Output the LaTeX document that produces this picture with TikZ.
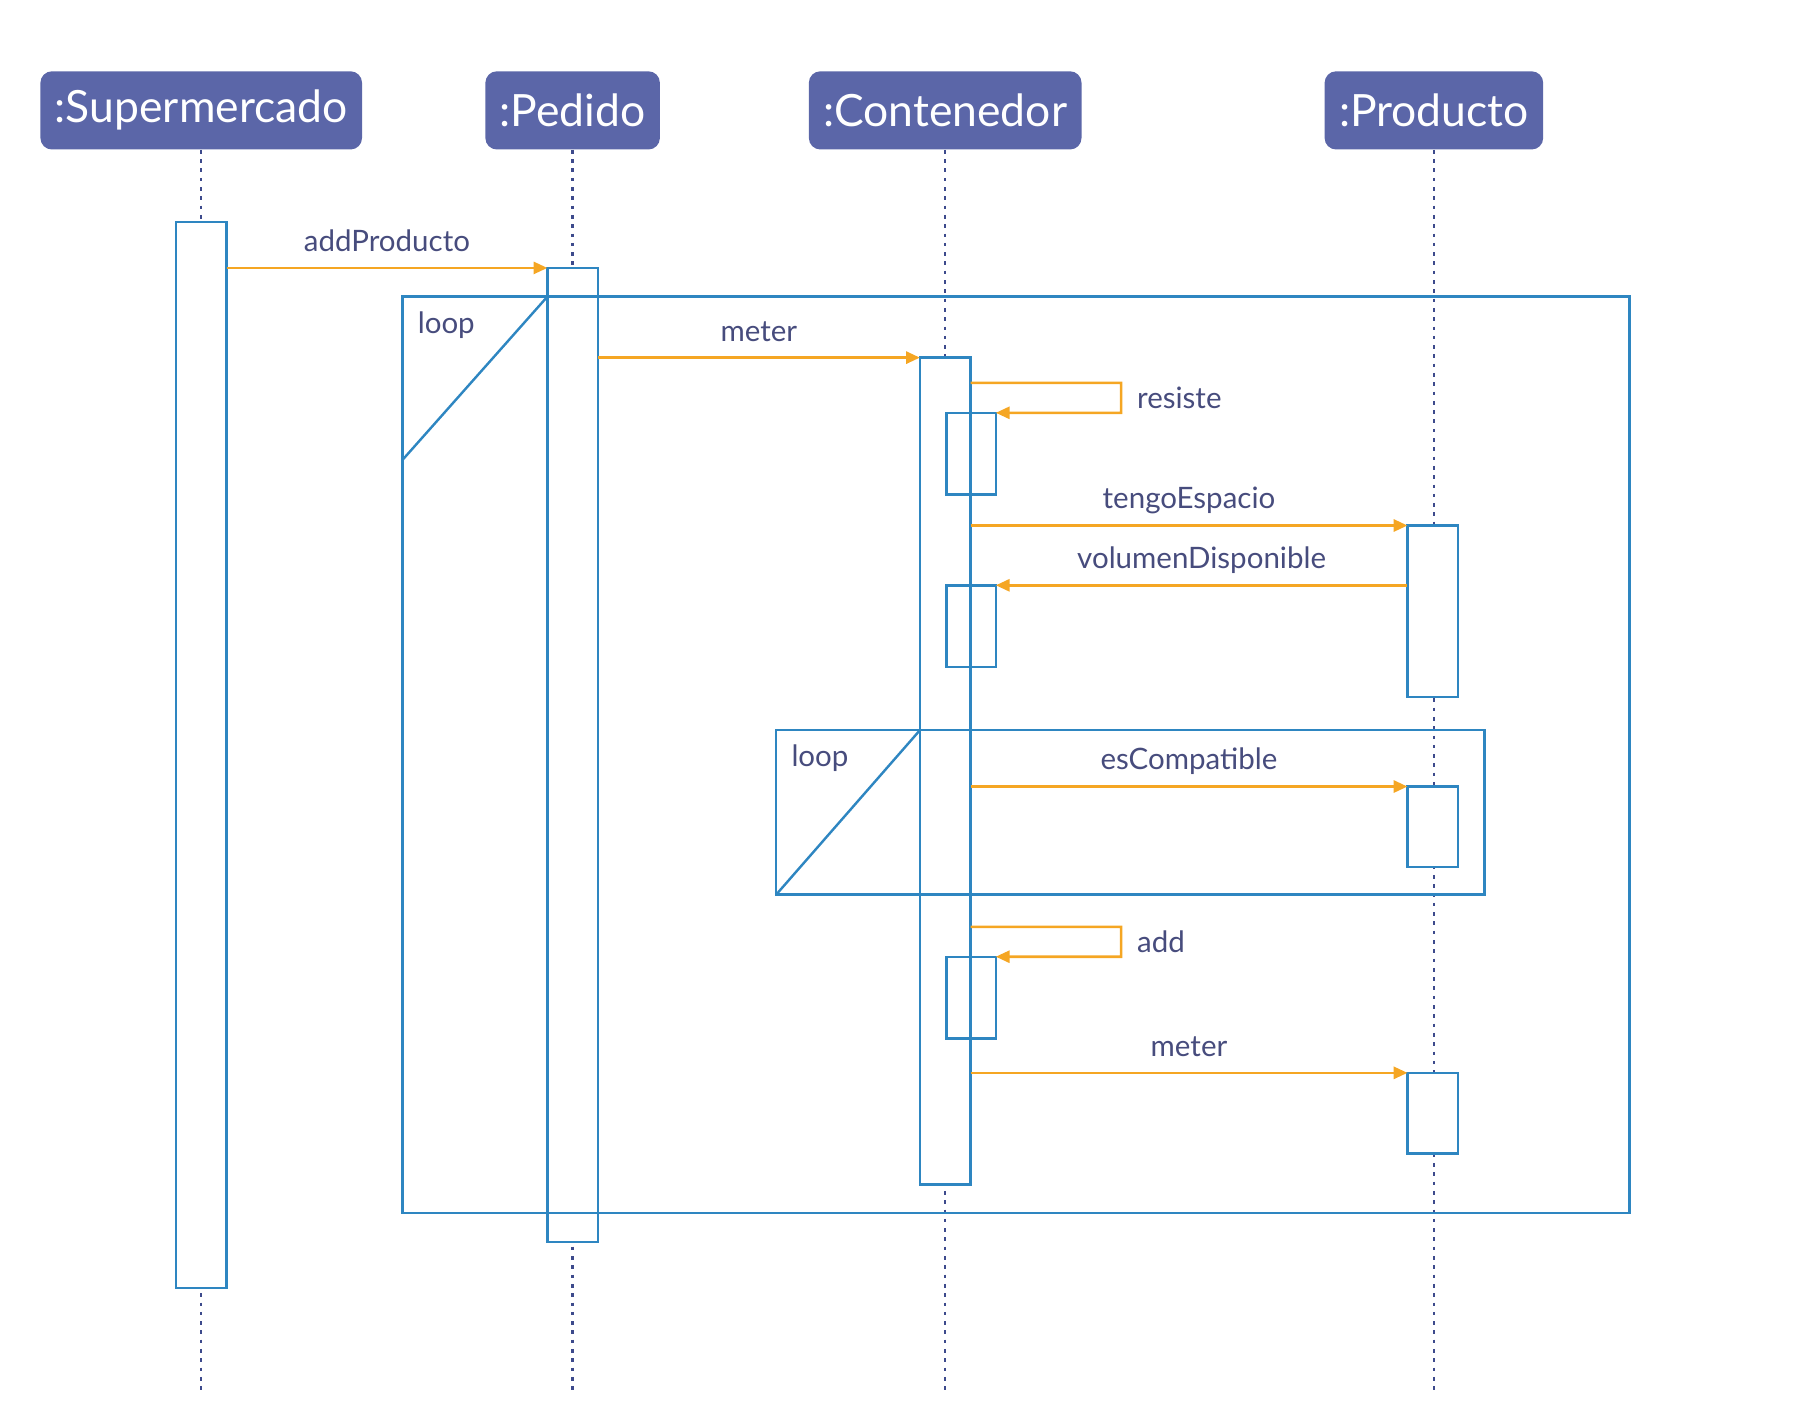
\documentclass[tikz,border=0pt]{standalone}
\usepackage{fontspec}
\setmainfont{Lato}
\usetikzlibrary{positioning, fit, arrows.meta}
\definecolor{headfill}{HTML}{5B66A8}
\definecolor{umlblue}{HTML}{2E86C1}
\definecolor{msgorange}{HTML}{F5A623}
\definecolor{labelink}{HTML}{474C7D}
\definecolor{lifeink}{HTML}{3D4A8C}

\begin{document}
\begin{tikzpicture}[x=0.2mm, y=-0.2mm,
  head/.style={rectangle, rounded corners=2mm, fill=headfill, text=white,
    font=\fontsize{22}{26}\selectfont, inner xsep=2.5mm, minimum height=13.6mm},
  life/.style={lifeink, line width=1.2pt, dash pattern=on 1.8pt off 2.8pt},
  act/.style={draw=umlblue, fill=white, line width=1.2pt, inner sep=0pt, outer sep=0pt},
  subact/.style={draw=umlblue, line width=1.2pt, inner sep=0pt, outer sep=0pt},
  frame/.style={draw=umlblue, line width=1.2pt, inner sep=0pt, outer sep=0pt},
  msg/.style={draw=msgorange, line width=1.3pt, -{Triangle[length=2.4mm,width=2.1mm]}},
  lbl/.style={text=labelink, font=\fontsize{14.6}{17}\selectfont, inner sep=1pt, text depth=0pt},
]
\useasboundingbox (0,0) rectangle (1568,1232);

\node[head] (sup) at (175,96) {:Supermercado};
\node[head] (ped) at (498,96) {:Pedido};
\node[head] (con) at (822,96) {:Contenedor};
\node[head] (pro) at (1247,96) {:Producto};

\coordinate (supEnd) at (175,1212);
\coordinate (pedEnd) at (498,1212);
\coordinate (conEnd) at (822,1212);
\coordinate (proEnd) at (1247,1212);

\draw[life]
    (sup) -- (supEnd)
    (ped) -- (pedEnd)
    (con) -- (conEnd)
    (pro) -- (proEnd)
    ;

\node[act, fit={(153,193) (197,1120)}] (actS) {};
\node[act, fit={(476,233) (520,1080)}] (actP) {};
\node[act, fit={(800,311) (844,1030)}] (actC) {};
\node[act, fit={(1224,457) (1268,606)}] (actT) {};
\node[act, fit={(1224,684) (1268,754)}] (actE) {};
\node[act, fit={(1224,933) (1268,1003)}] (actM) {};

\node[subact, fit={(823,359) (866,430)}] (actR) {};
\node[subact, fit={(823,509) (866,580)}] (actV) {};
\node[subact, fit={(823,832) (866,903)}] (actA) {};

\node[frame, fit={(350,258) (1417,1055)}] (loopOut) {};
\node[frame, fit={(675,635) (1291,778)}] (loopIn) {};

\coordinate (cutOut) at (350,400);
\draw[frame] (actP.west |- loopOut.north) -- (cutOut);
\draw[frame] (actC.west |- loopIn.north) -- (loopIn.south west);

\node[lbl, below right=2.2mm and 2.25mm of loopOut.north west] (loopOutLbl) {loop};
\node[lbl, below right=2.2mm and 2.25mm of loopIn.north west] (loopInLbl) {loop};

\coordinate (rs1) at (844,333);
\coordinate (rs2) at (975,333);
\coordinate (rs3) at (975,359);
\coordinate (ad1) at (844,806);
\coordinate (ad2) at (975,806);
\coordinate (ad3) at (975,832);

\draw[msg] (actS.east |- actP.north) -- node[lbl, midway, above=2.3mm] {addProducto} (actP.north west);
\draw[msg] (actP.east |- actC.north) -- node[lbl, midway, above=2.3mm] {meter} (actC.north west);
\draw[msg] (rs1) -- (rs2) -- node[lbl, right=2.2mm] {resiste} (rs3) -- (actR.north east);
\draw[msg] (actC.east |- actT.north) -- node[lbl, midway, above=2.3mm] {tengoEspacio} (actT.north west);
\draw[msg] (actT.west |- actV.north) -- node[lbl, midway, above=2.3mm] {volumenDisponible} (actV.north east);
\draw[msg] (actC.east |- actE.north) -- node[lbl, midway, above=2.3mm] {esCompatible} (actE.north west);
\draw[msg] (ad1) -- (ad2) -- node[lbl, right=2.2mm] {add} (ad3) -- (actA.north east);
\draw[msg] (actC.east |- actM.north) -- node[lbl, midway, above=2.3mm] {meter} (actM.north west);
\end{tikzpicture}
\end{document}
